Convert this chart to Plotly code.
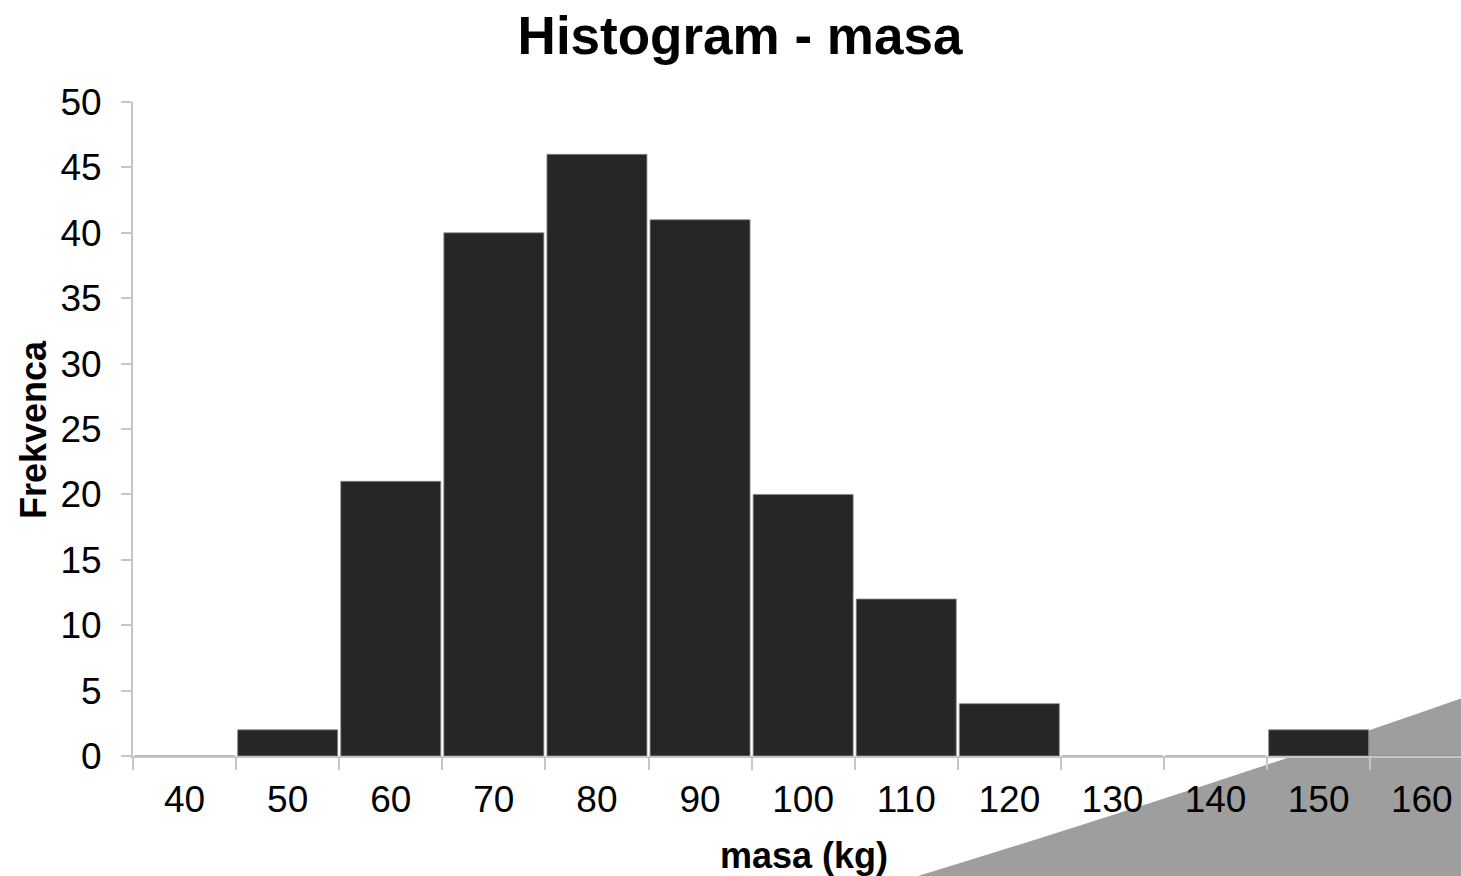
import plotly.graph_objects as go

categories = ["40", "50", "60", "70", "80", "90", "100", "110", "120", "130", "140", "150", "160"]
frequencies = [0, 2, 21, 40, 46, 41, 20, 12, 4, 0, 0, 2, 0]
y_ticks = [0, 5, 10, 15, 20, 25, 30, 35, 40, 45, 50]

W, H = 1461, 876
L, R, T, B = 133, 0, 102, 120
pw, ph = W - L - R, H - T - B
cat_w = 103.1
span = pw / cat_w

FONT = "Liberation Sans, Arial, sans-serif"
AXIS_COL = "#c6c6c6"

fig = go.Figure()
fig.add_trace(go.Bar(
    x=categories, y=frequencies,
    marker=dict(color="#262626", line=dict(color="#8a8a8a", width=0.8)),
    showlegend=False,
))


def px_x(p):
    return (p - L) / pw


def px_y(p):
    return (H - B - p) / ph


# decorative grey sweep in the lower right corner (slide background element)
path = (f"M {px_x(905)},{px_y(880)} "
        f"Q {px_x(1200)},{px_y(790)} {px_x(1465)},{px_y(697)} "
        f"L {px_x(1465)},{px_y(880)} Z")
fig.add_shape(type="path", path=path, xref="paper", yref="paper",
              fillcolor="#9e9e9e", line=dict(width=0), layer="below")

fig.update_layout(
    width=W, height=H,
    margin=dict(l=L, r=R, t=T, b=B, pad=0),
    paper_bgcolor="white", plot_bgcolor="white",
    bargap=0.03,
    font=dict(family=FONT, color="black", size=36),
    title=dict(text="<b>Histogram - masa</b>", font=dict(size=53, family=FONT, color="black"),
               x=740 / W, xanchor="center", xref="container",
               y=1 - 35 / H, yanchor="middle", yref="container"),
    xaxis=dict(
        type="category", categoryorder="array", categoryarray=categories,
        range=[-0.5, -0.5 + span],
        tickson="boundaries", ticks="outside", ticklen=12, tickwidth=2, tickcolor=AXIS_COL,
        showline=True, linecolor=AXIS_COL, linewidth=2,
        showgrid=False, zeroline=False,
        tickfont=dict(size=37, family=FONT, color="black"),
        ticklabelstandoff=10,
        fixedrange=True,
    ),
    yaxis=dict(
        range=[0, 50], tickvals=y_ticks, ticktext=[str(v) for v in y_ticks],
        ticks="outside", ticklen=10, tickwidth=2, tickcolor=AXIS_COL,
        showline=True, linecolor=AXIS_COL, linewidth=2,
        showgrid=False, zeroline=False,
        tickfont=dict(size=37, family=FONT, color="black"),
        ticklabelstandoff=12,
    ),
    annotations=[
        dict(text="<b>masa (kg)</b>", x=px_x(804), y=px_y(855), xref="paper", yref="paper",
             xanchor="center", yanchor="middle", showarrow=False,
             font=dict(size=36, family=FONT, color="black")),
        dict(text="<b>Frekvenca</b>", x=px_x(33), y=px_y(429), xref="paper", yref="paper",
             xanchor="center", yanchor="middle", showarrow=False, textangle=-90,
             font=dict(size=36, family=FONT, color="black")),
    ],
)

fig.write_html("out.html")
